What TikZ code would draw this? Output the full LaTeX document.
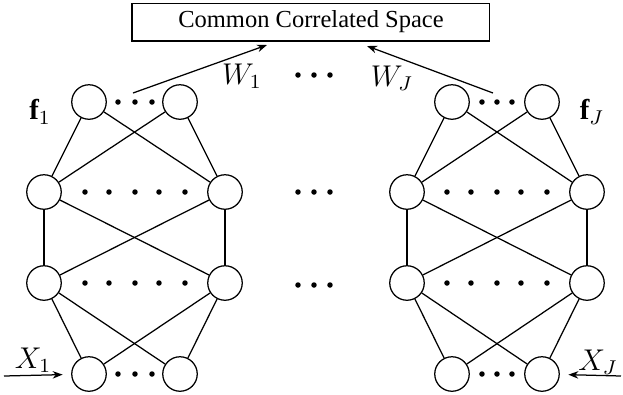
\documentclass[tikz,border=0pt]{standalone}
\usepackage{fontspec}
\setmainfont{Liberation Serif}
\usetikzlibrary{arrows.meta}
\begin{document}
\begin{tikzpicture}[x=0.4pt,y=-0.4pt,
  neuron/.style={circle,draw,line width=0.5pt,minimum size=13.8pt,inner sep=0pt},
  conn/.style={line width=0.5pt},
  arr/.style={line width=0.5pt,-{Stealth[length=4pt,width=3pt]}},
  lbl/.style={font=\fontsize{11.5}{13}\selectfont,inner sep=0pt},
  dot/.style={fill=black}]
\useasboundingbox (0,0) rectangle (623,395);
\node[draw,line width=0.6pt,minimum width=143pt,minimum height=15pt,inner sep=0pt,font=\fontsize{9.8}{11}\selectfont] (box) at (311,22) {Common Correlated Space};
% left network
\node[neuron] (a1) at (89,102) {};
\node[neuron] (a2) at (180,102) {};
\node[neuron] (b1) at (44,192) {};
\node[neuron] (b2) at (225,192) {};
\node[neuron] (c1) at (44,283) {};
\node[neuron] (c2) at (225,283) {};
\node[neuron] (d1) at (89,374) {};
\node[neuron] (d2) at (180,374) {};
% right network
\node[neuron] (p1) at (452,102) {};
\node[neuron] (p2) at (542,102) {};
\node[neuron] (q1) at (407,192) {};
\node[neuron] (q2) at (587,192) {};
\node[neuron] (r1) at (407,283) {};
\node[neuron] (r2) at (587,283) {};
\node[neuron] (s1) at (452,374) {};
\node[neuron] (s2) at (542,374) {};
\foreach \u/\v in {a1/b1,a1/b2,a2/b1,a2/b2,b1/c1,b1/c2,b2/c1,b2/c2,c1/d1,c1/d2,c2/d1,c2/d2,
                   p1/q1,p1/q2,p2/q1,p2/q2,q1/r1,q1/r2,q2/r1,q2/r2,r1/s1,r1/s2,r2/s1,r2/s2}
  \draw[conn] (\u) -- (\v);
% dots
\foreach \x in {118,135,152} { \fill[dot] (\x,102) circle (1.1pt); \fill[dot] (\x,374) circle (1.1pt); }
\foreach \x in {482,497,512} { \fill[dot] (\x,102) circle (1.1pt); \fill[dot] (\x,374) circle (1.1pt); }
\foreach \x in {85,109,135,159,185} { \fill[dot] (\x,192) circle (1.1pt); \fill[dot] (\x,283) circle (1.1pt); }
\foreach \x in {447,471,497,521,547} { \fill[dot] (\x,192) circle (1.1pt); \fill[dot] (\x,283) circle (1.1pt); }
\foreach \x in {298,314,330} { \fill[dot] (\x,75) circle (1.1pt); \fill[dot] (\x,192) circle (1.1pt); \fill[dot] (\x,285) circle (1.1pt); }
% arrows to common space
\coordinate (w1s) at (133,93);
\coordinate (w1e) at (267,45);
\coordinate (wJs) at (493,93);
\coordinate (wJe) at (367,46);
\draw[arr] (w1s) -- (w1e);
\draw[arr] (wJs) -- (wJe);
\node[lbl] (w1) at (242,76) {$W_1$};
\node[lbl] (wJ) at (392,78) {$W_J$};
\node[lbl] (f1) at (40,112) {$\mathbf{f}_1$};
\node[lbl] (fJ) at (592,112) {$\mathbf{f}_J$};
% inputs
\coordinate (x1s) at (4,376);
\coordinate (xJs) at (621,376);
\draw[arr,shorten >=3.4pt] (x1s) -- (d1);
\draw[arr,shorten >=3.4pt] (xJs) -- (s2);
\node[lbl] (x1) at (33,360) {$X_1$};
\node[lbl] (xJ) at (598,362) {$X_J$};
\end{tikzpicture}
\end{document}
